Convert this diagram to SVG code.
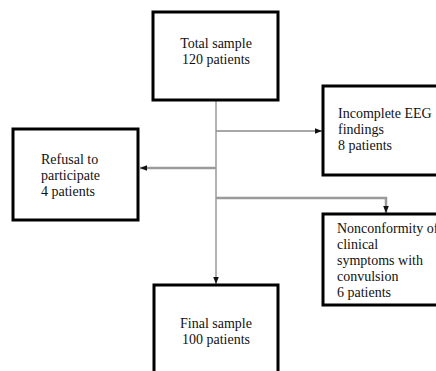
<svg xmlns="http://www.w3.org/2000/svg" width="436" height="371" viewBox="0 0 436 371">
<style>
.box{fill:#fff;stroke:#000;stroke-width:3}
text{font-family:"Liberation Serif","DejaVu Serif",serif;font-size:14px;fill:#111}
.ln{fill:none;stroke:#8a8a8a;stroke-width:1.3}
.lt{fill:none;stroke:#9a9a9a;stroke-width:2.5}
</style>
<defs>
<marker id="ah" viewBox="0 0 10 10" refX="10" refY="5" markerWidth="8" markerHeight="7" markerUnits="userSpaceOnUse" orient="auto">
<path d="M0,1 L10,5 L0,9 z" fill="#111"/>
</marker>
</defs>
<rect width="436" height="371" fill="#fff"/>
<g id="connectors">
<line class="ln" x1="216" y1="100" x2="216" y2="284" marker-end="url(#ah)"/>
<line class="ln" x1="216" y1="131" x2="322" y2="131" marker-end="url(#ah)"/>
<line class="lt" x1="216" y1="168" x2="140" y2="168" marker-end="url(#ah)"/>
<polyline class="lt" points="216,198 386,198 386,213" marker-end="url(#ah)"/>
</g>
<g id="total">
<rect class="box" x="153" y="12" width="125" height="88"/>
<text x="216" y="48" text-anchor="middle">Total sample</text>
<text x="216" y="64" text-anchor="middle">120 patients</text>
</g>
<g id="incomplete">
<rect class="box" x="323" y="86" width="120" height="89"/>
<text x="338" y="118">Incomplete EEG</text>
<text x="338" y="134">findings</text>
<text x="338" y="150">8 patients</text>
</g>
<g id="refusal">
<rect class="box" x="13" y="129" width="125" height="91"/>
<text x="41" y="164">Refusal to</text>
<text x="41" y="180">participate</text>
<text x="41" y="196">4 patients</text>
</g>
<g id="nonconformity">
<rect class="box" x="323" y="214" width="120" height="91"/>
<text x="337" y="233">Nonconformity of</text>
<text x="337" y="249">clinical</text>
<text x="337" y="265">symptoms with</text>
<text x="337" y="281">convulsion</text>
<text x="337" y="297">6 patients</text>
</g>
<g id="final">
<rect class="box" x="154" y="285" width="124" height="100"/>
<text x="216" y="328" text-anchor="middle">Final sample</text>
<text x="216" y="344" text-anchor="middle">100 patients</text>
</g>
</svg>
